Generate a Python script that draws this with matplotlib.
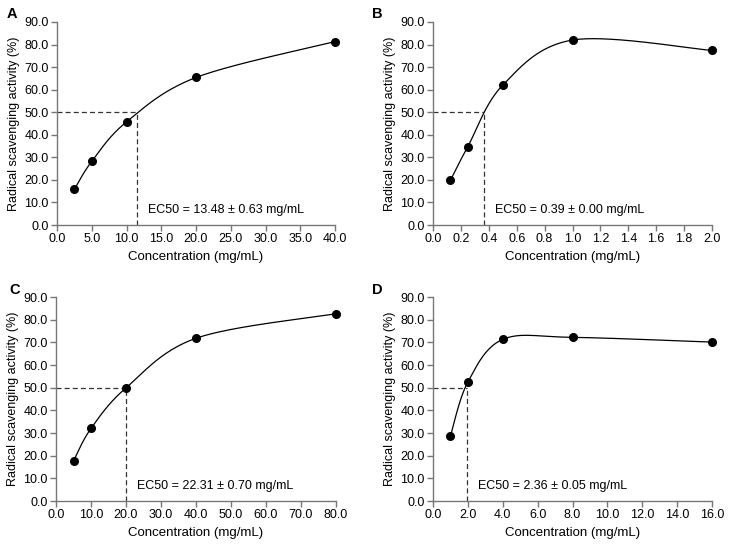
import numpy as np
import matplotlib.pyplot as plt

plt.rcParams['font.family'] = ['Liberation Sans', 'DejaVu Sans']

# data
conc_a = [2.5, 5.0, 10.0, 20.0, 40.0]
act_a = [15.8, 28.2, 45.7, 65.4, 81.3]
conc_b = [0.125, 0.25, 0.5, 1.0, 2.0]
act_b = [19.8, 34.8, 62.0, 82.0, 77.4]
conc_c = [5.0, 10.0, 20.0, 40.0, 80.0]
act_c = [17.7, 32.0, 49.9, 71.8, 82.6]
conc_d = [1.0, 2.0, 4.0, 8.0, 16.0]
act_d = [28.7, 52.5, 71.3, 72.2, 70.1]

ec50_x = [11.5, 0.363, 20.0, 1.95]
ec50_text = ["EC50 = 13.48 ± 0.63 mg/mL", "EC50 = 0.39 ± 0.00 mg/mL",
             "EC50 = 22.31 ± 0.70 mg/mL", "EC50 = 2.36 ± 0.05 mg/mL"]
xmax = [40, 2.0, 80, 16]
xstep = [5, 0.2, 10, 2]
letters = ["A", "B", "C", "D"]


def smooth(x, y, n=60):
    # excel-like smoothed line (bezier through points)
    p = np.column_stack([x, y]).astype(float)
    p = np.vstack([p[0], p, p[-1]])
    out = []
    for i in range(1, len(p) - 2):
        p0, p1, p2, p3 = p[i - 1], p[i], p[i + 1], p[i + 2]
        c1 = p1 + (p2 - p0) / 6
        c2 = p2 - (p3 - p1) / 6
        t = np.linspace(0, 1, n)[:, None]
        seg = (1 - t)**3 * p1 + 3 * (1 - t)**2 * t * c1 + 3 * (1 - t) * t**2 * c2 + t**3 * p2
        out.append(seg)
    out = np.vstack(out)
    return out[:, 0], out[:, 1]


fig = plt.figure(figsize=(7.3, 5.47), dpi=100)
W, H = 730, 547
boxes = [(57, 335, 22, 225), (433, 712, 22, 225), (56, 336, 297, 501), (433, 712, 297, 501)]
letter_pos = [(7, 14), (372, 14), (9, 290), (372, 290)]
data = [(conc_a, act_a), (conc_b, act_b), (conc_c, act_c), (conc_d, act_d)]

for i in range(4):
    l, r, t, b = boxes[i]
    ax = fig.add_axes([l / W, (H - b) / H, (r - l) / W, (b - t) / H])
    x, y = data[i]
    sx, sy = smooth(x, y)
    ax.plot(sx, sy, color='black', lw=0.9, clip_on=False)
    ax.plot(x, y, 'o', color='black', ms=5.5, clip_on=False, zorder=5)
    e = ec50_x[i]
    ax.plot([0, e], [50, 50], '--', color='#333333', lw=0.9, dashes=(4, 2.5))
    ax.plot([e, e], [0, 50], '--', color='#333333', lw=0.9, dashes=(4, 2.5))
    ax.text(e + xmax[i] * 0.04, 6.6, ec50_text[i], fontsize=9, va='center', ha='left')

    ax.set_xlim(0, xmax[i])
    ax.set_ylim(0, 90)
    ticks = np.arange(0, xmax[i] + xstep[i] / 2, xstep[i])
    ax.set_xticks(ticks)
    ax.set_xticklabels([f"{v:.1f}" for v in ticks])
    ax.set_yticks(np.arange(0, 91, 10))
    ax.set_yticklabels([f"{v:.1f}" for v in np.arange(0, 91, 10)])
    for s in ['top', 'right']:
        ax.spines[s].set_visible(False)
    for s in ['left', 'bottom']:
        ax.spines[s].set_color('#777777')
        ax.spines[s].set_linewidth(1.0)
    ax.tick_params(colors='#777777', labelcolor='black', labelsize=9, length=4, width=1.0, pad=2)
    ax.set_xlabel("Concentration (mg/mL)", fontsize=9.5, labelpad=4)
    ax.set_ylabel("Radical scavenging activity (%)", fontsize=9, labelpad=3)
    fig.text(letter_pos[i][0] / W, 1 - letter_pos[i][1] / H, letters[i],
             fontsize=10.5, fontweight='bold', va='center', ha='left')

fig.savefig("out.png", dpi=100)
